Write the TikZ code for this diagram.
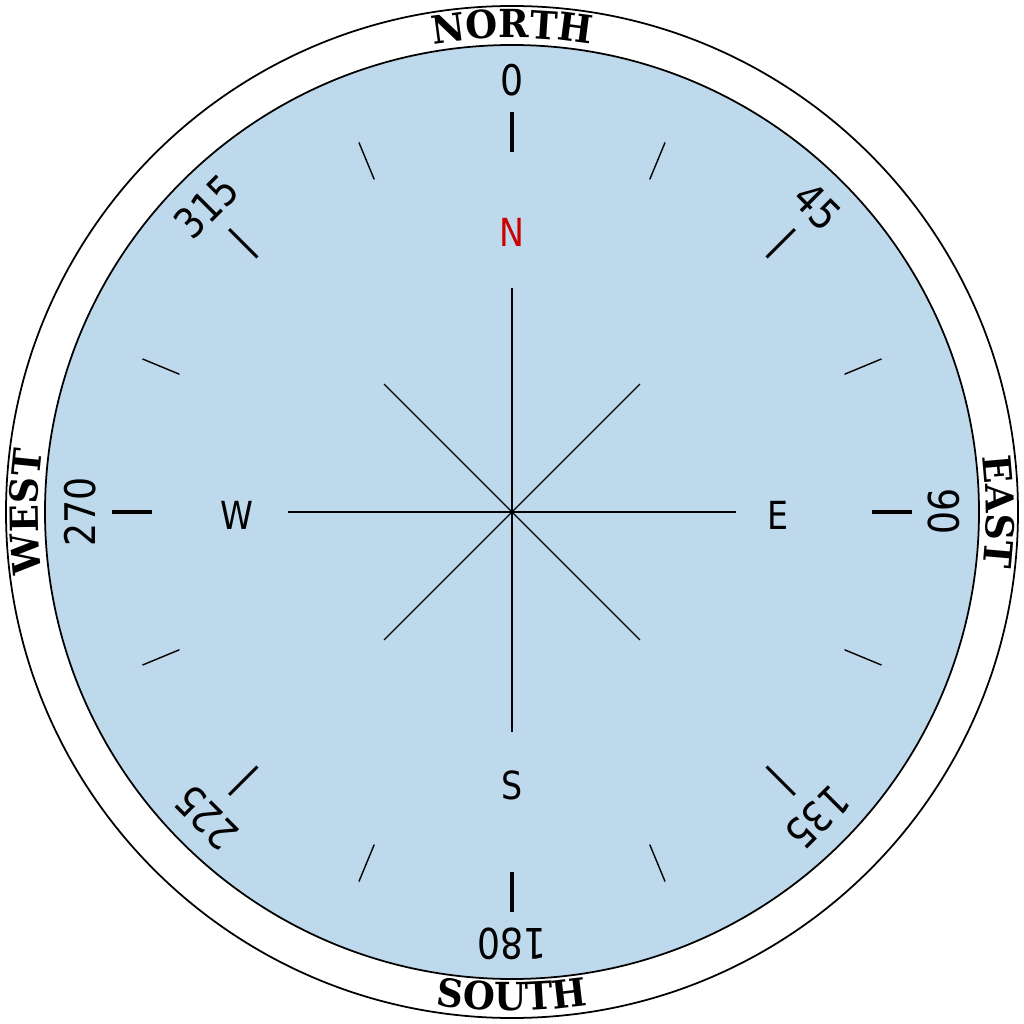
\documentclass[tikz,border=0pt]{standalone}
\usepackage{fontspec}
\usetikzlibrary{decorations.text}
\newfontfamily\dialfont[FakeStretch=0.86]{DejaVu Sans}
\newfontfamily\rimfont[FakeStretch=0.95]{DejaVu Serif}
\definecolor{dialblue}{RGB}{191,217,236}
\definecolor{northred}{RGB}{204,0,0}

\begin{document}
\begin{tikzpicture}[x=0.01cm, y=0.01cm,
    numlabel/.style={font=\dialfont\fontsize{12}{12}\selectfont, inner sep=0pt},
    cardinal/.style={font=\dialfont\fontsize{11}{12}\selectfont, inner sep=0pt},
    rimword/.style={decorate, decoration={text along path, text align=center,
        text={|\rimfont\bfseries\fontsize{11}{11}\selectfont|#1}}}]
    \useasboundingbox (-512,-512) rectangle (512,512);

    % Dial
    \draw[line width=0.5pt] (0,0) circle (506);
    \draw[line width=0.5pt, fill=dialblue] (0,0) circle (467);

    % Rim words
    \path[rimword=NORTH] (120:474) arc[start angle=120, end angle=60, radius=474];
    \path[rimword=EAST] (30:474) arc[start angle=30, end angle=-30, radius=474];
    \path[rimword=WEST] (210:474) arc[start angle=210, end angle=150, radius=474];
    \path[rimword=SOUTH] (240:499) arc[start angle=240, end angle=300, radius=499];

    % Ticks
    \foreach \a in {0,90,180,270}
        \draw[line width=1.1pt] (\a:360) -- (\a:400);
    \foreach \a in {45,135,225,315}
        \draw[line width=0.85pt] (\a:360) -- (\a:400);
    \foreach \a in {22.5,67.5,...,337.5}
        \draw[line width=0.4pt] (\a:360) -- (\a:400);

    % Degree labels
    \foreach \b in {0,45,...,315}
        \node[numlabel, rotate=-\b] (deg\b) at ({90-\b}:432) {\b};

    % Rose lines
    \draw[line width=0.7pt] (0,224) -- (0,-220);
    \draw[line width=0.7pt] (-224,0) -- (224,0);
    \draw[line width=0.4pt] (45:181) -- (225:181);
    \draw[line width=0.4pt] (135:181) -- (315:181);

    % Cardinal letters
    \node[cardinal, text=northred] (north) at (0,280) {N};
    \node[cardinal] (east) at (266,-3) {E};
    \node[cardinal] (south) at (0,-273) {S};
    \node[cardinal] (west) at (-275,-3) {W};

\end{tikzpicture}
\end{document}
